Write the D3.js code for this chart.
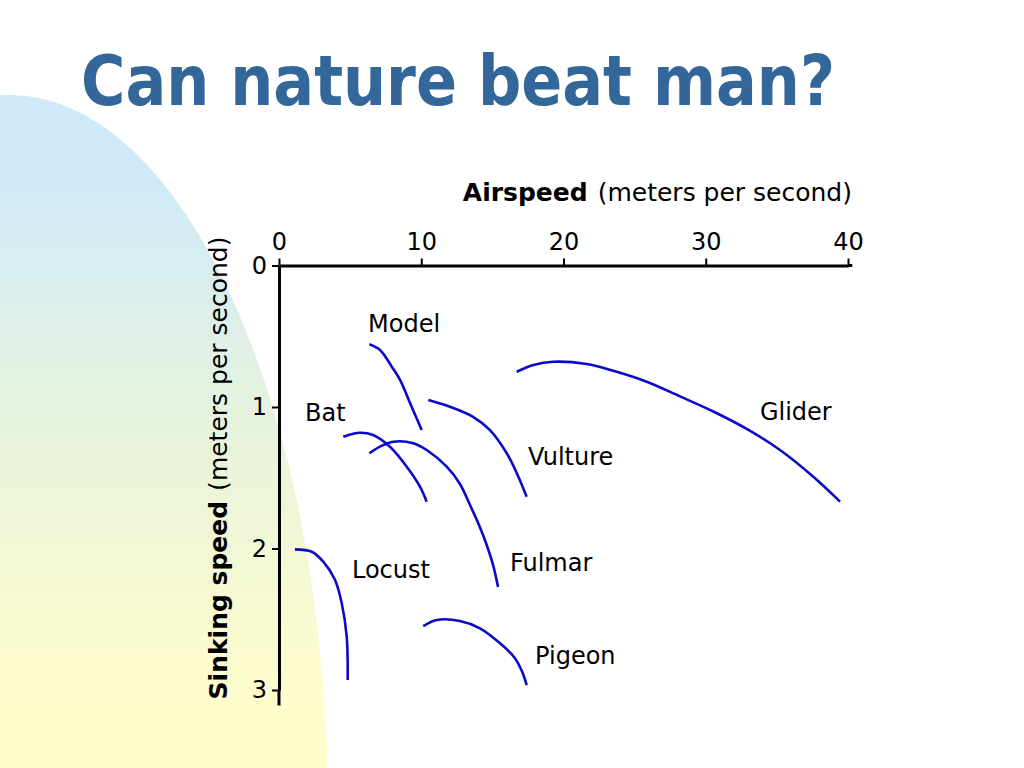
<!DOCTYPE html>
<html lang="en">
<head>
  <meta charset="UTF-8">
  <style>
    html, body { margin: 0; padding: 0; background: #fff; }
    svg { display: block; }

    /* chart text */
    .title {
      font-family: "DejaVu Sans", sans-serif;
      font-weight: bold;
      font-size: 70px;
      fill: #336699;
    }
    .axis text {
      font-family: "DejaVu Sans", sans-serif;
      font-size: 24px;
      fill: #000;
    }
    .axis .domain { stroke: #000; stroke-width: 3; }
    .axis .tick line { stroke: #000; stroke-width: 2; }
    .axis-title {
      font-family: "DejaVu Sans", sans-serif;
      font-size: 25px;
      fill: #000;
    }
    .curve {
      fill: none;
      stroke: #0a0ac8;
      stroke-width: 2.6;
    }
    .curve-label {
      font-family: "DejaVu Sans", sans-serif;
      font-size: 24px;
      fill: #000;
    }
  </style>
  <script src="https://d3js.org/d3.v7.min.js"></script>
</head>
<body>
  <svg width="1024" height="768" id="slide"></svg>

  <script>
    // Airspeed (m/s) and sinking speed (m/s)
    const names = ["Model", "Vulture", "Bat", "Fulmar", "Glider", "Locust", "Pigeon"];

    const modelX   = [6.35, 7.10, 7.94, 8.51, 9.21, 10.03];
    const modelY   = [0.557, 0.597, 0.717, 0.809, 0.972, 1.163];

    const vultureX = [10.50, 12.02, 13.64, 14.83, 16.00, 16.71, 17.41];
    const vultureY = [0.951, 0.998, 1.069, 1.163, 1.325, 1.466, 1.634];

    const batX     = [4.52, 5.69, 6.61, 7.80, 8.98, 9.91, 10.38];
    const batY     = [1.210, 1.182, 1.198, 1.281, 1.422, 1.563, 1.669];

    const fulmarX  = [6.35, 7.10, 8.04, 9.44, 10.38, 11.79, 12.72, 13.43, 14.06, 14.60, 15.05, 15.40];
    const fulmarY  = [1.327, 1.280, 1.245, 1.256, 1.304, 1.422, 1.544, 1.693, 1.834, 1.975, 2.117, 2.272];

    const gliderX  = [16.71, 17.88, 19.28, 21.63, 23.50, 25.85, 28.19, 30.53, 32.88, 35.22, 37.56, 39.44];
    const gliderY  = [0.751, 0.703, 0.680, 0.696, 0.744, 0.821, 0.925, 1.032, 1.155, 1.304, 1.493, 1.669];

    const locustX  = [1.12, 2.30, 3.11, 3.94, 4.41, 4.76, 4.83];
    const locustY  = [2.006, 2.023, 2.093, 2.223, 2.387, 2.623, 2.929];

    const pigeonX  = [10.14, 11.09, 12.72, 14.13, 15.54, 16.55, 17.08, 17.41];
    const pigeonY  = [2.548, 2.505, 2.512, 2.564, 2.670, 2.770, 2.868, 2.965];

    // where each name sits, in data units (left edge, baseline)
    const labelX = [6.26, 17.50, 1.83, 16.24, 33.81, 5.13, 18.00];
    const labelY = [0.470, 1.410, 1.099, 2.159, 1.092, 2.208, 2.816];

    const xTicks = [0, 10, 20, 30, 40];
    const yTicks = [0, 1, 2, 3];

    const seriesX = [modelX, vultureX, batX, fulmarX, gliderX, locustX, pigeonX];
    const seriesY = [modelY, vultureY, batY, fulmarY, gliderY, locustY, pigeonY];

    const svg = d3.select("#slide");

    // soft blue-to-yellow backdrop on the left
    const grad = svg.append("defs").append("linearGradient")
      .attr("id", "bg")
      .attr("gradientUnits", "userSpaceOnUse")
      .attr("x1", 0).attr("y1", 95).attr("x2", 0).attr("y2", 768);
    grad.append("stop").attr("offset", "0.1").attr("stop-color", "#cde9fa");
    grad.append("stop").attr("offset", "0.5").attr("stop-color", "#e8f3dc");
    grad.append("stop").attr("offset", "0.9").attr("stop-color", "#fffdcc");

    svg.append("ellipse")
      .attr("cx", 10).attr("cy", 810)
      .attr("rx", 318).attr("ry", 715)
      .attr("fill", "url(#bg)");

    svg.append("text")
      .attr("class", "title")
      .attr("x", 81).attr("y", 105)
      .attr("textLength", 754)
      .attr("lengthAdjust", "spacingAndGlyphs")
      .text("Can nature beat man?");

    const x = d3.scaleLinear().domain([0, 40]).range([279, 848]);
    const y = d3.scaleLinear().domain([0, 3]).range([265.5, 690]);

    svg.append("g")
      .attr("class", "axis")
      .attr("transform", `translate(0,${y(0)})`)
      .call(d3.axisTop(x).tickValues(xTicks).tickSize(7).tickSizeOuter(0).tickPadding(9));

    const yAxis = svg.append("g")
      .attr("class", "axis")
      .attr("transform", `translate(${x(0)},0)`)
      .call(d3.axisLeft(y).tickValues(yTicks).tickFormat(d3.format("d"))
        .tickSize(7).tickSizeOuter(0).tickPadding(5));

    // axes run a little past their last ticks
    yAxis.append("line")
      .attr("y1", y(3)).attr("y2", y(3.11))
      .attr("stroke", "#000").attr("stroke-width", 3);
    svg.append("line")
      .attr("x1", x(40)).attr("x2", x(40.3))
      .attr("y1", y(0)).attr("y2", y(0))
      .attr("stroke", "#000").attr("stroke-width", 3);

    // axis titles
    const xt = svg.append("text")
      .attr("class", "axis-title")
      .attr("x", 852).attr("y", 201)
      .attr("text-anchor", "end");
    xt.append("tspan").attr("font-weight", "bold").text("Airspeed");
    xt.append("tspan").attr("dx", 10).text("(meters per second)");

    const yt = svg.append("text")
      .attr("class", "axis-title")
      .attr("transform", "translate(227,468) rotate(-90)")
      .attr("text-anchor", "middle");
    yt.append("tspan").attr("font-weight", "bold").text("Sinking speed");
    yt.append("tspan").attr("dx", 10).text("(meters per second)");

    // curves
    const line = d3.line()
      .x(d => x(d[0]))
      .y(d => y(d[1]))
      .curve(d3.curveCatmullRom.alpha(0.5));

    names.forEach((name, i) => {
      const pts = seriesX[i].map((v, j) => [v, seriesY[i][j]]);
      svg.append("path")
        .attr("class", "curve")
        .attr("d", line(pts));
      svg.append("text")
        .attr("class", "curve-label")
        .attr("x", x(labelX[i]))
        .attr("y", y(labelY[i]))
        .text(name);
    });
  </script>
</body>
</html>
